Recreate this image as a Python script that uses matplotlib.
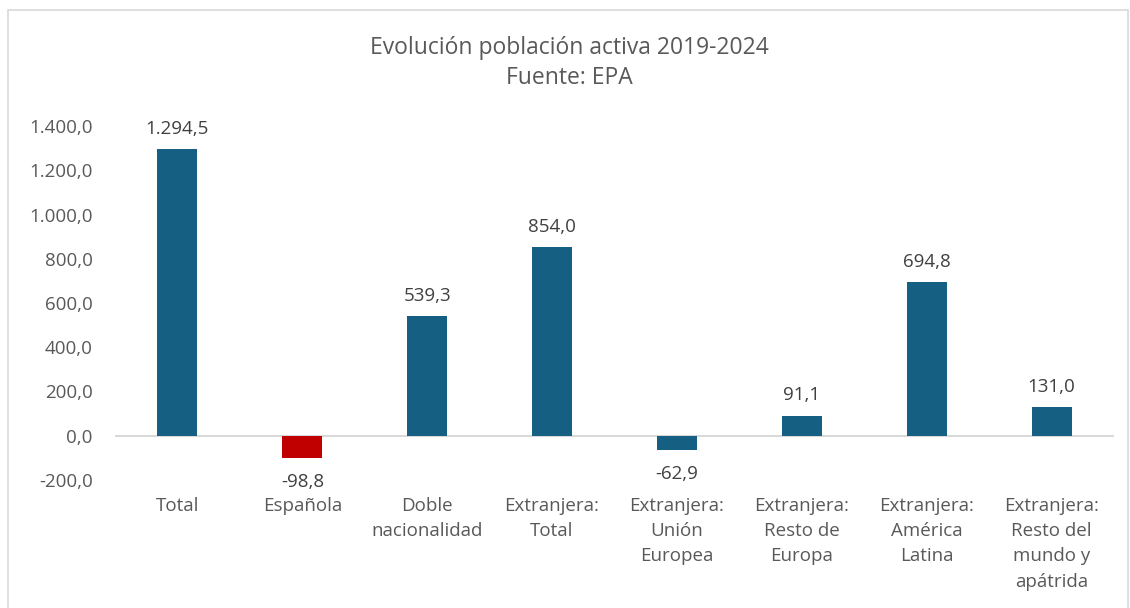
import matplotlib
matplotlib.use("Agg")
import matplotlib.pyplot as plt
from matplotlib.patches import Rectangle
from matplotlib.ticker import FuncFormatter

categories = ["Total", "Española", "Doble\nnacionalidad", "Extranjera:\nTotal",
              "Extranjera:\nUnión\nEuropea", "Extranjera:\nResto de\nEuropa",
              "Extranjera:\nAmérica\nLatina", "Extranjera:\nResto del\nmundo y\napátrida"]
values = [1294.5, -98.8, 539.3, 854.0, -62.9, 91.1, 694.8, 131.0]
colors = ["#156082", "#C00000", "#156082", "#156082", "#156082", "#156082", "#156082", "#156082"]
yticks = [-200, 0, 200, 400, 600, 800, 1000, 1200, 1400]

def es_fmt(v, decimals=1):
    s = f"{v:,.{decimals}f}"
    return s.replace(",", "X").replace(".", ",").replace("X", ".")

plt.rcParams['font.family'] = ['Open Sans', 'DejaVu Sans']
txt = "#595959"
fs = 13.5

fig = plt.figure(figsize=(11.3, 6.08), dpi=100)
fig.patches.append(Rectangle((8/1130, -0.1), 1120/1130, (608-10)/608 + 0.1,
                             transform=fig.transFigure, fill=False,
                             edgecolor="#d9d9d9", linewidth=1.2))

ax = fig.add_axes([115/1130, 128/608, 999/1130, 354/608])
x = list(range(len(categories)))
ax.bar(x, values, width=0.32, color=colors, zorder=2)
ax.set_xlim(-0.5, len(categories) - 0.5)
ax.set_ylim(-200, 1400)
ax.set_yticks(yticks)
ax.yaxis.set_major_formatter(FuncFormatter(lambda v, p: es_fmt(v)))
ax.tick_params(axis='y', length=0, labelsize=fs, labelcolor=txt, pad=16)
ax.set_xticks([])
for s in ax.spines.values():
    s.set_visible(False)
ax.axhline(0, color="#d9d9d9", linewidth=1.5, zorder=1)

for xi, v in zip(x, values):
    if v >= 0:
        ax.annotate(es_fmt(v), (xi, v), xytext=(0, 8), textcoords="offset points",
                    ha="center", va="bottom", fontsize=fs, color="#404040")
    else:
        ax.annotate(es_fmt(v), (xi, v), xytext=(0, -11), textcoords="offset points",
                    ha="center", va="top", fontsize=fs, color="#404040")

for xi, c in zip(x, categories):
    ax.annotate(c, (xi, -200), xytext=(0, -12), textcoords="offset points",
                ha="center", va="top", fontsize=fs, color=txt, linespacing=1.52)

fig.text(569/1130, 1 - 48/608, "Evolución población activa 2019-2024", ha="center",
         va="center", fontsize=16.5, color=txt)
fig.text(569/1130, 1 - 78/608, "Fuente: EPA", ha="center", va="center",
         fontsize=16.5, color=txt)

fig.savefig("out.png", dpi=100)
